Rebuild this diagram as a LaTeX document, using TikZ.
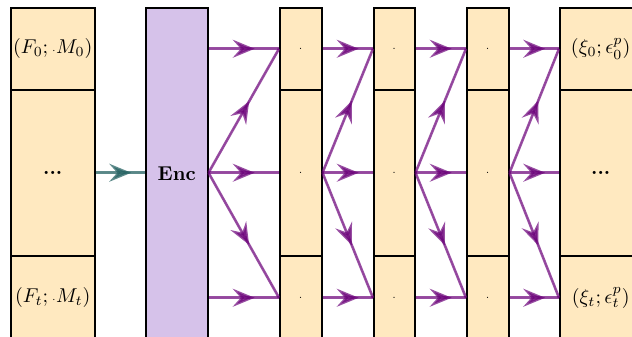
\documentclass[tikz,border=0pt]{standalone}
\usetikzlibrary{arrows.meta,decorations.markings}
\definecolor{cellfill}{RGB}{255,233,192}
\definecolor{encfill}{RGB}{214,194,234}
\definecolor{flowc}{RGB}{108,3,122}
\definecolor{inc}{RGB}{40,100,100}
\tikzset{
  cellbox/.style={draw=black, line width=0.75pt, fill=cellfill, anchor=north west, inner sep=0pt},
  encbox/.style={draw=black, line width=0.75pt, fill=encfill, anchor=north west, inner sep=0pt, font=\bfseries},
  midarrow/.style={postaction={decorate}, decoration={markings,
      mark=at position 0.5 with {\pgftransformxshift{5.5pt}\arrow{Stealth[length=11pt,width=9pt,inset=4pt]}}}},
  flow/.style={draw=flowc, fill=flowc, opacity=0.7, line width=1.3pt, midarrow},
  inflow/.style={draw=inc, fill=inc, opacity=0.75, line width=1.3pt, midarrow},
}
\newcommand\mkcell[6]{\node[cellbox, minimum width=#4*0.5pt, minimum height=#5*0.5pt] (#1) at (#2,#3) {#6};}
\begin{document}
\begin{tikzpicture}[x=0.5pt, y=-0.5pt]
\useasboundingbox (0,0) rectangle (632,337);
\clip (0,0) rectangle (632,337);
% left column
\mkcell{L0}{10}{7}{84}{82}{$(F_0;{\scriptscriptstyle\cdot}M_0)$}
\mkcell{L1}{10}{89}{84}{166}{\textbf{...}}
\mkcell{L2}{10}{255}{84}{84}{$(F_t;{\scriptscriptstyle\cdot}M_t)$}
% encoder
\node[encbox, minimum width=31pt, minimum height=166pt] (Enc) at (145,7) {Enc};
% middle columns
\mkcell{A0}{279}{7}{42}{82}{\tiny .}
\mkcell{A1}{279}{89}{42}{166}{\tiny .}
\mkcell{A2}{279}{255}{42}{84}{\tiny .}
\mkcell{B0}{373}{7}{41}{82}{\tiny .}
\mkcell{B1}{373}{89}{41}{166}{\tiny .}
\mkcell{B2}{373}{255}{41}{84}{\tiny .}
\mkcell{C0}{466}{7}{42}{82}{\tiny .}
\mkcell{C1}{466}{89}{42}{166}{\tiny .}
\mkcell{C2}{466}{255}{42}{84}{\tiny .}
% right column
\mkcell{R0}{559}{7}{82}{82}{$(\xi_0;\epsilon_0^p)$}
\mkcell{R1}{559}{89}{82}{166}{\textbf{...}}
\mkcell{R2}{559}{255}{82}{84}{$(\xi_t;\epsilon_t^p)$}
% input arrow
\draw[inflow] (L1.east) -- (Enc.west |- L1.east);
% encoder to first column
\draw[flow] (Enc.east |- A0.west) -- (A0.west);
\draw[flow] (Enc.east |- A1.west) -- (A0.west);
\draw[flow] (Enc.east |- A1.west) -- (A1.west);
\draw[flow] (Enc.east |- A1.west) -- (A2.west);
\draw[flow] (Enc.east |- A2.west) -- (A2.west);
% column to column
\foreach \s/\t in {A/B, B/C, C/R}{
  \draw[flow] (\s0.east) -- (\t0.west);
  \draw[flow] (\s1.east) -- (\t0.west);
  \draw[flow] (\s1.east) -- (\t1.west);
  \draw[flow] (\s1.east) -- (\t2.west);
  \draw[flow] (\s2.east) -- (\t2.west);
}
\end{tikzpicture}
\end{document}
